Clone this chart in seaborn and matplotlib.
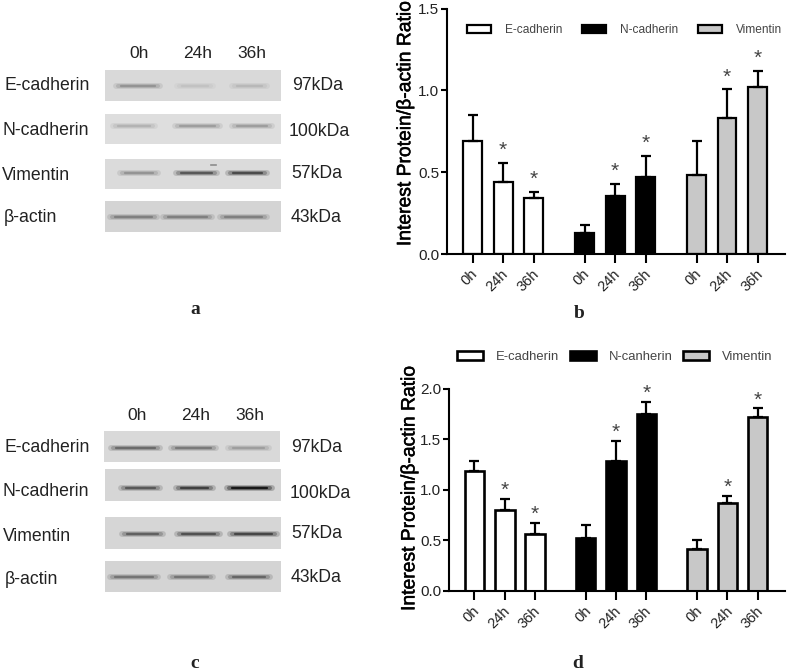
import numpy as np
import pandas as pd
import matplotlib.pyplot as plt
import matplotlib.patheffects as pe
from matplotlib.patches import Rectangle
from matplotlib.transforms import ScaledTranslation
import seaborn as sns

proteins = ['E-cadherin', 'N-cadherin', 'Vimentin']
proteins_d = ['E-cadherin', 'N-canherin', 'Vimentin']
times = ['0h', '24h', '36h']

# ratios, panel b
b_ecad = [0.69, 0.438, 0.34]
b_ncad = [0.128, 0.356, 0.472]
b_vim = [0.483, 0.829, 1.022]
b_ecad_top = [0.847, 0.556, 0.38]
b_ncad_top = [0.177, 0.428, 0.60]
b_vim_top = [0.69, 1.006, 1.122]

# panel d
d_ecad = [1.19, 0.797, 0.563]
d_ncad = [0.52, 1.282, 1.75]
d_vim = [0.42, 0.867, 1.72]
d_ecad_top = [1.288, 0.913, 0.672]
d_ncad_top = [0.656, 1.486, 1.87]
d_vim_top = [0.507, 0.942, 1.806]

# band darkness on the blots (grey level, lower is darker)
blot_labels = ['E-cadherin', 'N-cadherin', 'Vimentin', 'β-actin']
blot_a = [[0.58, 0.76, 0.72], [0.70, 0.62, 0.62], [0.58, 0.35, 0.30], [0.50, 0.50, 0.50]]
blot_c = [[0.42, 0.48, 0.62], [0.35, 0.25, 0.10], [0.38, 0.32, 0.28], [0.46, 0.46, 0.40]]
kda = ['97kDa', '100kDa', '57kDa', '43kDa']

W, H = 787, 672
colors = ['white', 'black', '#c8c8c8']
fig = plt.figure(figsize=(W / 100, H / 100), dpi=100)
plt.rcParams['font.family'] = ['Liberation Sans', 'DejaVu Sans']


def px_axes(left, top, right, bottom):
    return fig.add_axes([left / W, 1 - bottom / H, (right - left) / W, (bottom - top) / H])


bg = px_axes(0, 0, W, H)
bg.set_xlim(0, W)
bg.set_ylim(H, 0)
bg.axis('off')


def draw_blot(strips, band_y, lanes, levels, shades):
    for k in range(4):
        x0, x1, y0, y1 = strips[k]
        bg.add_patch(Rectangle((x0, y0), x1 - x0, y1 - y0, color=str(shades[k]), lw=0))
        for (a, b), g in zip(lanes[k], levels[k]):
            # soft looking band, pale and wide up to dark and narrow
            for width, mix, inset in [(4.2, 0.25, 0), (2.9, 0.55, 2), (1.6, 1.0, 5)]:
                tone = shades[k] + (g - shades[k]) * mix
                bg.plot([a + inset, b - inset], [band_y[k]] * 2, color=str(tone), lw=width,
                        solid_capstyle='round')


def blot_text(head_y, head_x, left_pos, right_pos):
    for t, x in zip(times, head_x):
        bg.text(x, head_y + 1, t, ha='center', va='center', fontsize=12.5, color='#222222')
    for t, (x, y) in zip(blot_labels, left_pos):
        bg.text(x, y + 1.5, t, ha='left', va='center', fontsize=12.7, color='#222222')
    for t, (x, y) in zip(kda, right_pos):
        bg.text(x, y + 1, t, ha='left', va='center', fontsize=12.7, color='#222222')


draw_blot([(105, 281, 70, 100.7), (105, 281, 114, 144), (105, 281, 159, 188.7), (105, 281, 201.3, 231.7)],
          [85.7, 125.7, 173.3, 216.7],
          [[(116, 160), (177, 213), (232, 267)], [(113, 155), (175, 220), (232, 272)],
           [(120, 158), (176, 217), (228, 267)], [(110, 157), (163, 212), (220, 267)]],
          blot_a, [0.85, 0.87, 0.86, 0.83])
bg.plot([211, 216], [164.5, 164.5], color='0.55', lw=1.2)
blot_text(53, [139, 198, 252], [(4, 84), (2, 129), (2, 174), (4, 216)],
          [(292, 85), (289, 131), (291, 173), (291, 216)])

draw_blot([(104, 280, 430.7, 461.7), (105, 281, 469.3, 500.7), (105, 281, 517.3, 548.7), (105, 281, 561.3, 591.7)],
          [448.3, 487.7, 534, 577.3],
          [[(111, 160), (171, 216), (228, 269)], [(121, 160), (176, 213), (227, 272)],
           [(122, 163), (177, 220), (230, 277)], [(110, 158), (170, 213), (228, 270)]],
          blot_c, [0.85, 0.84, 0.84, 0.83])
blot_text(415, [137, 196, 250], [(5, 446), (3, 490), (3, 535), (5, 578)],
          [(291, 447), (290, 492), (291, 533), (291, 576)])

for letter, x, y in [('a', 195, 309), ('b', 579, 313), ('c', 195, 663), ('d', 578, 663)]:
    bg.text(x, y, letter, ha='center', va='center', fontsize=14, fontweight='bold',
            family='Liberation Serif', color='#222222')

group_step = 3.67
positions = [g * group_step + i for g in range(3) for i in range(3)]


def bar_panel(box, means, tops, names, ymax, yticks, leg_anchor, leg_size, text_pad, col_space,
              star_off, label_xy, edge_lw, bar_w):
    ax = px_axes(*box)
    df = pd.DataFrame({
        'pos': positions,
        'ratio': np.concatenate(means),
        'top': np.concatenate(tops),
        'protein': np.repeat(names, 3),
    })
    sns.barplot(data=df, x='pos', y='ratio', hue='protein', hue_order=names, palette=colors,
                native_scale=True, dodge=False, width=bar_w, edgecolor='black', linewidth=edge_lw,
                errorbar=None, ax=ax)
    ax.errorbar(df['pos'], df['ratio'], yerr=[np.zeros(9), df['top'] - df['ratio']], fmt='none',
                ecolor='black', elinewidth=1.6, capsize=3.9, capthick=1.6)
    for _, row in df.iloc[[1, 2, 4, 5, 7, 8]].iterrows():
        ax.annotate('*', (row['pos'], row['top']), xytext=(0, star_off), textcoords='offset points',
                    ha='center', va='center', fontsize=15, color='#444444')
    ax.set_xlim(-0.84, 10.24)
    ax.set_ylim(0, ymax)
    ax.set_yticks(yticks, [f'{v:.1f}' for v in yticks], fontsize=11, color='#222222')
    ax.set_xticks(positions, times * 3, rotation=45, ha='right', rotation_mode='anchor',
                  fontsize=10.5, color='#222222')
    ax.tick_params(axis='y', length=4.2, width=1.5, pad=1.5)
    ax.tick_params(axis='x', length=6.5, width=1.5, pad=2.5)
    shift = ScaledTranslation(-2 / 100, 0, fig.dpi_scale_trans)
    for lab in ax.get_xticklabels():
        lab.set_transform(lab.get_transform() + shift)
    ax.set_xlabel('')
    ax.set_ylabel('Interest Protein/β-actin Ratio', fontsize=13.9, color='black',
                  path_effects=[pe.withStroke(linewidth=0.35, foreground='black')])
    ax.yaxis.set_label_coords(*label_xy)
    sns.despine(ax=ax)
    ax.spines['left'].set_linewidth(1.5)
    ax.spines['bottom'].set_linewidth(1.5)
    ax.patch.set_alpha(0)
    ax.legend(loc='upper left', bbox_to_anchor=leg_anchor, bbox_transform=fig.transFigure, ncol=3,
              frameon=False, title=None, fontsize=leg_size, borderpad=0, borderaxespad=0,
              handlelength=2.0, handleheight=0.6, handletextpad=text_pad, columnspacing=col_space,
              labelcolor='#444444')
    return ax


bar_panel((447, 8.7, 785, 254), [b_ecad, b_ncad, b_vim], [b_ecad_top, b_ncad_top, b_vim_top],
          proteins, 1.5, [0.0, 0.5, 1.0, 1.5], (467 / W, 1 - 24 / H), 8.6, 1.15, 1.7, 9,
          (-0.097, 0.53), 1.6, 0.62)
bar_panel((449, 388.7, 785, 591), [d_ecad, d_ncad, d_vim], [d_ecad_top, d_ncad_top, d_vim_top],
          proteins_d, 2.0, [0.0, 0.5, 1.0, 1.5, 2.0], (457 / W, 1 - 351 / H), 9.4, 0.95, 0.85, 6,
          (-0.091, 0.505), 1.9, 0.64)

fig.savefig('out.png', dpi=100)
